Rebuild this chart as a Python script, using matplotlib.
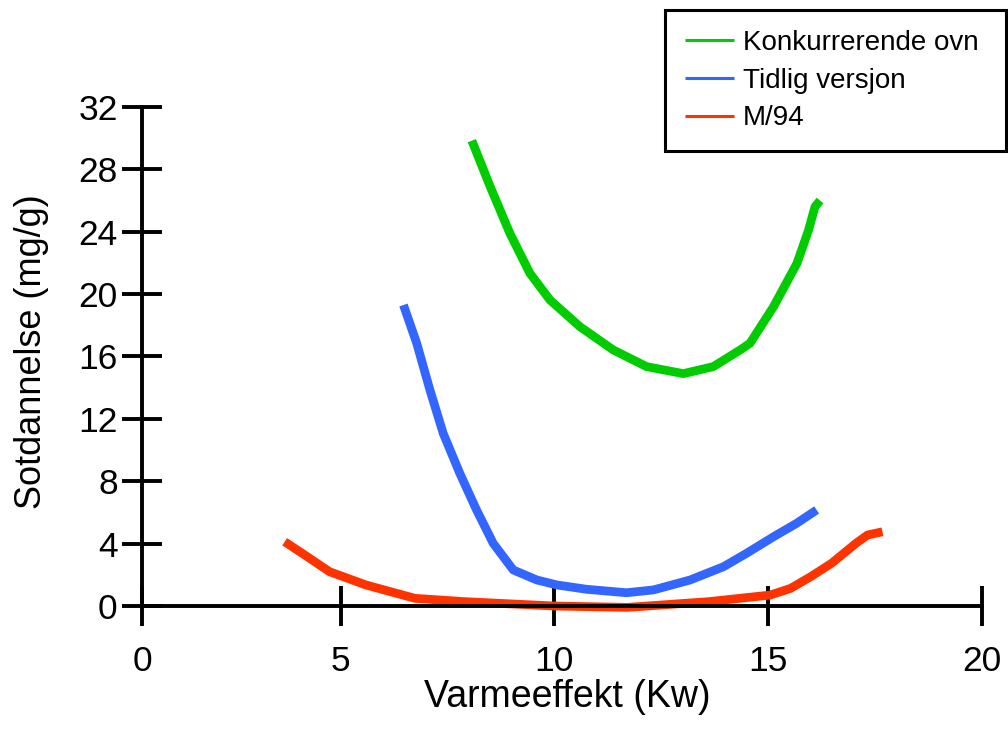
import matplotlib
matplotlib.use("Agg")
import matplotlib.pyplot as plt

plt.rcParams['font.family'] = ['Liberation Sans', 'DejaVu Sans']

gronn_x = [8.07, 8.50, 8.96, 9.43, 9.90, 10.60, 11.38, 12.16, 13.02, 13.72, 14.35, 14.58, 15.13, 15.68, 15.95, 16.10, 16.22]
gronn_y = [29.84, 26.89, 23.9, 21.33, 19.62, 17.91, 16.42, 15.35, 14.9, 15.35, 16.42, 16.85, 19.19, 21.98, 24.1, 25.6, 26.0]

blaa_x = [6.47, 6.78, 7.09, 7.40, 7.79, 8.18, 8.57, 9.04, 9.59, 10.06, 10.76, 11.69, 12.32, 13.18, 13.96, 14.50, 15.13, 15.67, 16.14]
blaa_y = [19.3, 16.85, 13.85, 11.07, 8.5, 6.16, 4.02, 2.31, 1.67, 1.35, 1.07, 0.85, 1.03, 1.67, 2.52, 3.38, 4.44, 5.30, 6.16]

rod_x = [3.69, 4.16, 4.74, 5.59, 6.74, 7.89, 9.99, 11.71, 13.62, 15.05, 15.53, 16.0, 16.49, 17.06, 17.33, 17.68]
rod_y = [4.12, 3.27, 2.2, 1.35, 0.49, 0.28, 0.0, -0.09, 0.28, 0.7, 1.13, 1.88, 2.74, 4.02, 4.55, 4.76]

navn = ["Konkurrerende ovn", "Tidlig versjon", "M/94"]
farger = ["#00CC00", "#3366FF", "#FF3300"]

xticks = [0.36, 5, 10, 15, 20]
xlabels = ["0", "5", "10", "15", "20"]
yticks = [0, 4, 8, 12, 16, 20, 24, 28, 32]

fig = plt.figure(figsize=(10.08, 7.30), dpi=100)
ax = fig.add_axes([0, 0, 1, 1])

lw = 6.3
ax.plot(gronn_x, gronn_y, color=farger[0], lw=lw, solid_capstyle='butt', solid_joinstyle='round', label=navn[0])
ax.plot(blaa_x, blaa_y, color=farger[1], lw=lw, solid_capstyle='butt', solid_joinstyle='round', label=navn[1])
ax.plot(rod_x, rod_y, color=farger[2], lw=lw, solid_capstyle='butt', solid_joinstyle='round', label=navn[2])

ax.set_xlim(-2.972, 20.618)
ax.set_ylim(-7.952, 38.86)

for s in ['top', 'right']:
    ax.spines[s].set_visible(False)
ax.spines['left'].set_position(('data', 0.36))
ax.spines['bottom'].set_position(('data', 0))
ax.spines['left'].set_bounds(0, 32)
ax.spines['bottom'].set_bounds(0.36, 20)
for s in ['left', 'bottom']:
    ax.spines[s].set_linewidth(2.8)

ax.set_xticks(xticks, labels=xlabels)
ax.set_yticks(yticks)
ax.tick_params(axis='both', direction='inout', length=29.5, width=2.8, labelsize=25.5)
ax.tick_params(axis='x', pad=13)
ax.tick_params(axis='y', pad=3)

ax.set_xlabel("Varmeeffekt (Kw)", fontsize=27)
ax.set_ylabel("Sotdannelse (mg/g)", fontsize=26)
ax.xaxis.set_label_coords(567 / 1008, 1 - 679 / 730)
ax.yaxis.set_label_coords(49 / 1008, 1 - 352 / 730)

leg = ax.legend(loc='upper left', bbox_to_anchor=(665 / 1008, 1 - 150 / 730, 341 / 1008, 140 / 730),
                bbox_transform=fig.transFigure, mode='expand', borderaxespad=0, fontsize=20,
                handlelength=1.76, handletextpad=0.32, labelspacing=0.42,
                borderpad=0.72, fancybox=False, framealpha=1)
leg.get_frame().set_edgecolor('black')
leg.get_frame().set_linewidth(2.2)
for l in leg.get_lines():
    l.set_linewidth(2.2)

fig.savefig("out.png", dpi=100)
